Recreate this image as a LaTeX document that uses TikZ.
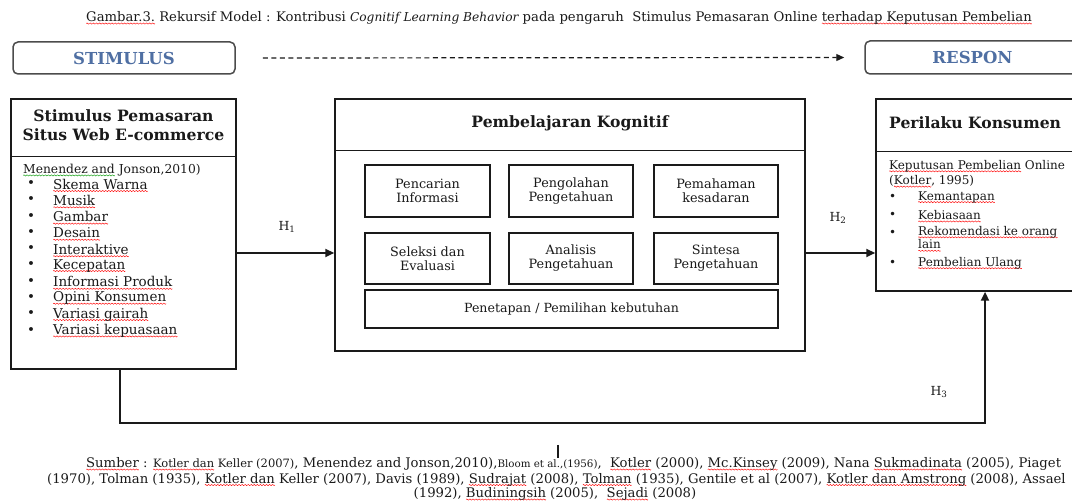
\documentclass[tikz,border=0pt]{standalone}
\usepackage{fontspec}
\setmainfont{DejaVu Serif}
\usetikzlibrary{arrows.meta,calc}
\definecolor{stimc}{HTML}{4F6FA3}
\definecolor{ink}{HTML}{1A1A1A}
\newsavebox\rwavebox
\newsavebox\gwavebox
\newsavebox\wtextbox
\newcommand\wavewith[2]{\setbox\wtextbox\hbox{#2}\rlap{\raisebox{-2.8pt}[0pt][0pt]{\hbox to\wd\wtextbox{\xleaders\copy#1\hfill}}}\box\wtextbox}
\newcommand\rwave[1]{\wavewith\rwavebox{#1}}
\newcommand\gwave[1]{\wavewith\gwavebox{#1}}
\newcommand\fsz[2]{\fontsize{#1}{#2}\selectfont}
\newcommand\mkwave[1]{\begin{pgfpicture}\pgfpathrectanglecorners{\pgfpoint{0pt}{-0.8pt}}{\pgfpoint{3pt}{0.8pt}}\pgfusepath{use as bounding box}\pgfsetlinewidth{0.45pt}\pgfsetstrokecolor{#1}\pgfpathmoveto{\pgfpoint{0pt}{0pt}}\pgfpathlineto{\pgfpoint{0.75pt}{0.6pt}}\pgfpathlineto{\pgfpoint{2.25pt}{-0.6pt}}\pgfpathlineto{\pgfpoint{3pt}{0pt}}\pgfusepath{stroke}\end{pgfpicture}}
\begin{document}
\sbox\rwavebox{\mkwave{red}}
\sbox\gwavebox{\mkwave{green!60!black}}
\begin{tikzpicture}[x=1pt,y=-1pt,
  box/.style={draw=ink,line width=1.5pt,inner sep=0pt},
  tag/.style={draw=black!70,line width=1.5pt,rounded corners=5pt,inner sep=0pt,text=stimc,font=\fsz{16.5}{18}\bfseries},
  hdr/.style={font=\fsz{15.6}{19}\bfseries,align=center,text=ink,inner sep=0pt},
  cell/.style={box,font=\fsz{12.8}{14},align=center,text=ink},
  arr/.style={line width=2.2pt,draw=ink,-{Triangle[length=9pt,width=8pt]}},
  darr/.style={line width=1.2pt,draw=ink,dash pattern=on 5pt off 3.5pt,-{Triangle[length=8pt,width=7pt]}},
  lab/.style={font=\fsz{12.5}{14},text=ink,inner sep=0pt},
  item/.style={anchor=west,inner sep=0pt,font=\fsz{13.5}{15},text=ink},
  ritem/.style={anchor=west,inner sep=0pt,font=\fsz{12}{12.5},text=ink},
  txt/.style={inner sep=0pt,text=ink}
]
\useasboundingbox (0,0) rectangle (1072,502);
\fill[white] (0,0) rectangle (1072,502);
\clip (0,0) rectangle (1072,502);

% title
\node[txt,font=\fsz{13.2}{15}] (title) at (559,18) {\rwave{Gambar.3.} Rekursif Model : Kontribusi {\fsz{12.2}{14}\itshape Cognitif Learning Behavior} pada pengaruh\ \ Stimulus Pemasaran Online \rwave{terhadap Keputusan Pembelian}};

% stimulus / respon tags
\node[tag,minimum width=222pt,minimum height=32pt] (stim) at (124,58) {STIMULUS};
\node[tag,minimum width=215pt,minimum height=33pt] (resp) at (972.5,57.5) {RESPON};
\draw[darr] ([xshift=27pt]stim.east) -- ([xshift=-20pt]resp.west);

% left box
\node[box,minimum width=225pt,minimum height=270pt] (L) at (123.5,234) {};
\path (L.north west) ++(0,58) coordinate (Ld);
\draw[line width=1.2pt,ink] (Ld) -- (Ld -| L.east);
\node[hdr] (Lh) at (123.5,125) {Stimulus Pemasaran\\Situs Web E-commerce};
\node[txt,anchor=west,font=\fsz{12.3}{14}] (Lsrc) at (23,170) {\gwave{Menendez and} Jonson,2010)};
\foreach \t [count=\i] in {Skema Warna,Musik,Gambar,Desain,Interaktive,Kecepatan,Informasi Produk,Opini Konsumen,Variasi gairah,Variasi kepuasaan}{
  \pgfmathsetmacro\yy{184+16.3*(\i-1)}
  \node[item] (lb\i) at (27,\yy) {\textbullet};
  \node[item] (lt\i) at (53,\yy) {\rwave{\t}};
}

% middle box
\node[box,minimum width=470pt,minimum height=252pt] (M) at (570,225) {};
\path (M.north west) ++(0,52) coordinate (Md);
\draw[line width=1.2pt,ink] (Md) -- (Md -| M.east);
\node[hdr] (Mh) at (570,123) {Pembelajaran Kognitif};
\node[cell,minimum width=125pt,minimum height=52pt] (c1) at (427.5,191) {Pencarian\\Informasi};
\node[cell,minimum width=124pt,minimum height=52pt] (c2) at (571,191) {Pengolahan\\Pengetahuan};
\node[cell,minimum width=124pt,minimum height=52pt] (c3) at (716,191) {Pemahaman\\kesadaran};
\node[cell,minimum width=125pt,minimum height=51pt] (c4) at (427.5,258.5) {Seleksi dan\\Evaluasi};
\node[cell,minimum width=124pt,minimum height=51pt] (c5) at (571,258.5) {Analisis\\Pengetahuan};
\node[cell,minimum width=124pt,minimum height=51pt] (c6) at (716,258.5) {Sintesa\\Pengetahuan};
\node[cell,font=\fsz{12.6}{14},minimum width=413pt,minimum height=38pt] (c7) at (571.5,309) {Penetapan / Pemilihan kebutuhan};

% right box
\node[box,minimum width=199pt,minimum height=192pt] (R) at (975.5,195) {};
\path (R.north west) ++(0,53) coordinate (Rd);
\draw[line width=1.2pt,ink] (Rd) -- (Rd -| R.east);
\node[hdr,anchor=west] (Rh) at (889,123) {Perilaku Konsumen};
\node[ritem] (rs1) at (889,166) {\rwave{Keputusan Pembelian} Online};
\node[ritem] (rs2) at (889,181) {(\rwave{Kotler}, 1995)};
\node[ritem] (rb1) at (889,197) {\textbullet};
\node[ritem] (rt1) at (918,197) {\rwave{Kemantapan}};
\node[ritem] (rb2) at (889,215) {\textbullet};
\node[ritem] (rt2) at (918,215) {\rwave{Kebiasaan}};
\node[ritem] (rb3) at (889,233) {\textbullet};
\node[ritem,anchor=north west,align=left] (rt3) at (918,226) {\rwave{Rekomendasi ke orang}\\[1pt]\rwave{lain}};
\node[ritem] (rb4) at (889,263) {\textbullet};
\node[ritem] (rt4) at (918,263) {\rwave{Pembelian Ulang}};

% connectors
\coordinate (a1) at ([yshift=-19pt]L.east);
\draw[arr] (a1) -- (a1 -| M.west);
\coordinate (a2) at (M.east |- a1);
\draw[arr] (a2) -- (a2 -| R.west);
\coordinate (lpL) at (120,423);
\coordinate (lpR) at (985,423);
\draw[arr] (lpL |- L.south) -- (lpL) -- (lpR) -- (lpR |- R.south);

\node[lab] (h1) at (287,227) {H\textsubscript{1}};
\node[lab] (h2) at (838,218) {H\textsubscript{2}};
\node[lab] (h3) at (939,392) {H\textsubscript{3}};

% text cursor
\draw[line width=2.5pt,ink] (558,445) -- (558,458);

% sources
\node[txt,anchor=west,font=\fsz{13.2}{15}] (s1) at (86,464) {\rwave{Sumber} : {\fsz{11.5}{13}\rwave{Kotler dan} Keller (2007)}, Menendez and Jonson,2010),{\fsz{10.3}{12}Bloom et al.,(1956)},\ \ \rwave{Kotler} (2000), \rwave{Mc.Kinsey} (2009), Nana \rwave{Sukmadinata} (2005), Piaget};
\node[txt,anchor=west,font=\fsz{13.2}{15}] (s2) at (47,479.5) {(1970), Tolman (1935), \rwave{Kotler dan} Keller (2007), Davis (1989), \rwave{Sudrajat} (2008), \rwave{Tolman} (1935), Gentile et al (2007), \rwave{Kotler dan Amstrong} (2008), Assael};
\node[txt,font=\fsz{13.2}{15}] (s3) at (555,494) {(1992), \rwave{Budiningsih} (2005),\ \ \rwave{Sejadi} (2008)};
\end{tikzpicture}
\end{document}
